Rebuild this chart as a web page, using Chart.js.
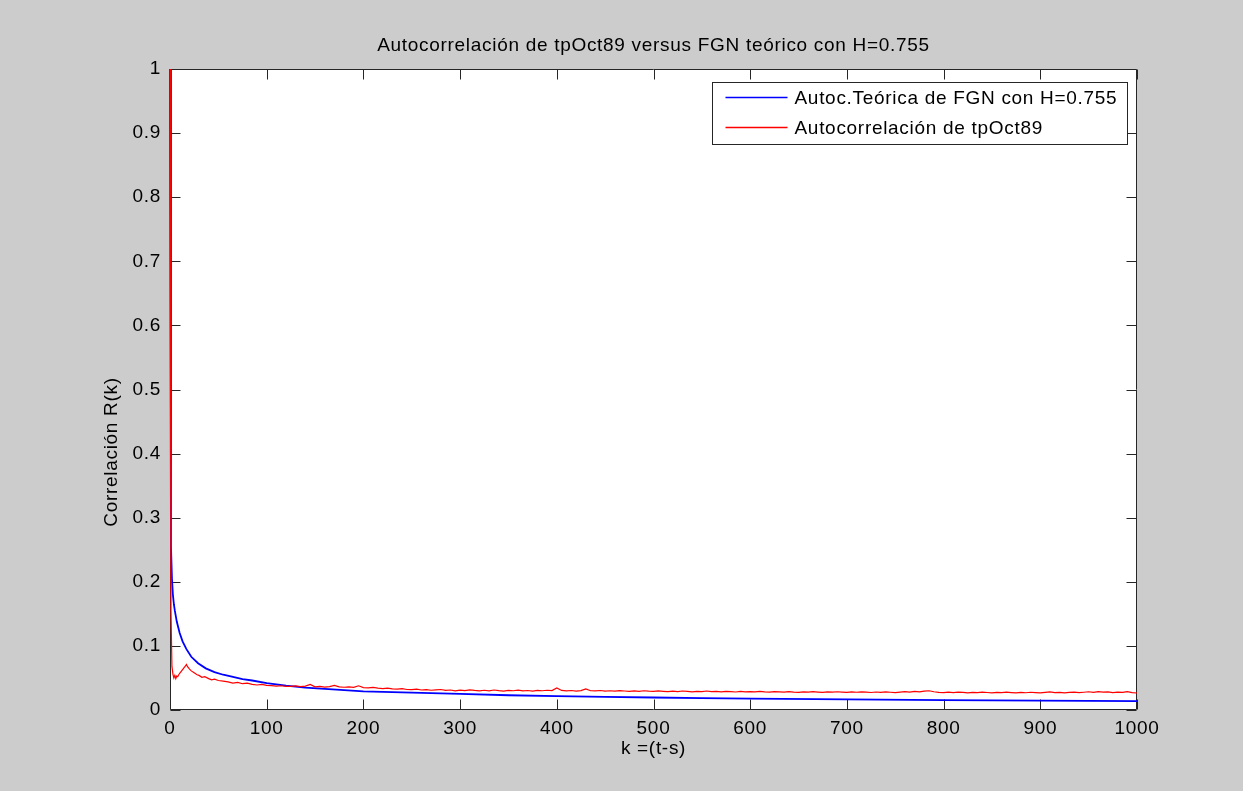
<!DOCTYPE html>
<html>
<head>
<meta charset="utf-8">
<script src="https://cdn.jsdelivr.net/npm/chart.js@4.4.1/dist/chart.umd.min.js"></script>
<style>
  html, body { margin: 0; padding: 0; background: #cccccc; }
  canvas { display: block; }
</style>
</head>
<body>
<canvas id="acf" width="1243" height="791"></canvas>
<script>
// ---- text ----
const chartTitle = 'Autocorrelación de tpOct89 versus FGN teórico con H=0.755';
const xTitle = 'k =(t-s)';
const yTitle = 'Correlación R(k)';
const theoryLabel = 'Autoc.Teórica de FGN con H=0.755';
const sampleLabel = 'Autocorrelación de tpOct89';

// ---- axis ticks ----
const xTicks = [0, 100, 200, 300, 400, 500, 600, 700, 800, 900, 1000];
const yTicks = [0, 0.1, 0.2, 0.3, 0.4, 0.5, 0.6, 0.7, 0.8, 0.9, 1];

// ---- theoretical FGN autocorrelation (blue) ----
const theoryLags = [0, 1, 2, 3, 4, 5, 7, 10, 13, 17, 22, 29, 37, 46, 55, 64, 75, 85, 100,
  120, 140, 160, 180, 200, 250, 300, 350, 400, 450, 500, 550, 600, 700, 800, 900, 1000];
const theoryValues = [1, 0.255, 0.205, 0.180, 0.165, 0.155, 0.138, 0.120, 0.107, 0.095, 0.083,
  0.073, 0.065, 0.059, 0.055, 0.052, 0.048, 0.046, 0.042,
  0.038, 0.035, 0.033, 0.031, 0.029, 0.027, 0.025, 0.023, 0.0215, 0.0205, 0.0195, 0.0185,
  0.0178, 0.0166, 0.0155, 0.0146, 0.0138];

// ---- sample autocorrelation of tpOct89 (red), first lags ----
const sampleLagsHead = [0, 1, 2, 3, 4, 5, 6, 7, 8, 9, 10, 12, 14, 16, 17, 18, 20, 22, 25, 28,
  30, 33, 36, 40, 43, 46, 50, 55, 60, 65, 70, 75, 80, 85, 90, 95];
const sampleValuesHead = [1, 0.155, 0.068, 0.056, 0.050, 0.054, 0.049, 0.053, 0.052, 0.055,
  0.057, 0.061, 0.065, 0.069, 0.071, 0.068, 0.064, 0.061, 0.058, 0.055,
  0.054, 0.051, 0.052, 0.049, 0.047, 0.048, 0.046, 0.045, 0.044, 0.042,
  0.043, 0.041, 0.042, 0.040, 0.039, 0.040];

// ---- sample autocorrelation, lags 100..1000 every 5 ----
const sampleTailStart = 100;
const sampleTailStep = 5;
const sampleValuesTail = [
  0.0385, 0.0380, 0.0372, 0.0378, 0.0370, 0.0368, 0.0375, 0.0366, 0.0372, 0.0400,
  0.0362, 0.0368, 0.0358, 0.0365, 0.0385, 0.0362, 0.0355, 0.0360, 0.0352, 0.0378,
  0.0350, 0.0345, 0.0352, 0.0340, 0.0335, 0.0342, 0.0330, 0.0325, 0.0332, 0.0320,
  0.0318, 0.0325, 0.0312, 0.0318, 0.0308, 0.0315, 0.0320, 0.0306, 0.0312, 0.0300,
  0.0310, 0.0302, 0.0315, 0.0305, 0.0298, 0.0308, 0.0300, 0.0312, 0.0302, 0.0296,
  0.0306, 0.0300, 0.0310, 0.0298, 0.0304, 0.0296, 0.0305, 0.0300, 0.0308, 0.0302,
  0.0345, 0.0305, 0.0298, 0.0304, 0.0296, 0.0302, 0.0330, 0.0300, 0.0298, 0.0304,
  0.0295, 0.0300, 0.0294, 0.0302, 0.0296, 0.0290, 0.0298, 0.0292, 0.0300, 0.0294,
  0.0290, 0.0298, 0.0292, 0.0286, 0.0294, 0.0288, 0.0296, 0.0290, 0.0284, 0.0292,
  0.0288, 0.0296, 0.0286, 0.0290, 0.0284, 0.0292, 0.0287, 0.0281, 0.0290, 0.0284,
  0.0288, 0.0282, 0.0290, 0.0284, 0.0280, 0.0288, 0.0283, 0.0278, 0.0286, 0.0280,
  0.0276, 0.0284, 0.0279, 0.0286, 0.0280, 0.0275, 0.0283, 0.0278, 0.0285, 0.0279,
  0.0274, 0.0282, 0.0277, 0.0284, 0.0278, 0.0273, 0.0281, 0.0276, 0.0283, 0.0277,
  0.0272, 0.0280, 0.0286, 0.0278, 0.0290, 0.0282, 0.0295, 0.0300, 0.0285, 0.0276,
  0.0270, 0.0278, 0.0272, 0.0280, 0.0274, 0.0268, 0.0276, 0.0271, 0.0279, 0.0273,
  0.0268, 0.0276, 0.0270, 0.0278, 0.0272, 0.0266, 0.0274, 0.0269, 0.0277, 0.0271,
  0.0266, 0.0274, 0.0282, 0.0270, 0.0276, 0.0268, 0.0274, 0.0280, 0.0270, 0.0277,
  0.0285, 0.0274, 0.0288, 0.0279, 0.0284, 0.0272, 0.0280, 0.0274, 0.0286, 0.0270,
  0.0265
];

// ---- build point lists ----
const theoryPoints = theoryLags.map((k, i) => ({ x: k, y: theoryValues[i] }));
const samplePoints = sampleLagsHead.map((k, i) => ({ x: k, y: sampleValuesHead[i] }))
  .concat(sampleValuesTail.map((v, i) => ({ x: sampleTailStart + i * sampleTailStep, y: v })));

// ---- look ----
const FONT_FAMILY = '"Liberation Sans", Arial, Helvetica, sans-serif';
const FONT_SIZE = 19;
const LETTER_SPACING = '0.7px';
const AXIS_COLOR = '#262626';
const TICK_LEN = 10;

Chart.defaults.font.family = FONT_FAMILY;
Chart.defaults.font.size = FONT_SIZE;
Chart.defaults.color = '#000000';

// figure background, white axes area, box and inward ticks, title and y label
const axesFrame = {
  id: 'axesFrame',
  beforeDraw(chart) {
    const { ctx, chartArea: a } = chart;
    ctx.letterSpacing = LETTER_SPACING;
    ctx.save();
    ctx.fillStyle = '#cccccc';
    ctx.fillRect(0, 0, chart.width, chart.height);
    ctx.fillStyle = '#ffffff';
    ctx.fillRect(a.left, a.top, a.right - a.left, a.bottom - a.top);

    ctx.fillStyle = '#000000';
    ctx.font = FONT_SIZE + 'px ' + FONT_FAMILY;
    ctx.textAlign = 'center';
    ctx.textBaseline = 'middle';
    ctx.fillText(chartTitle, (a.left + a.right) / 2, 46);

    ctx.translate(112, 452);
    ctx.rotate(-Math.PI / 2);
    ctx.fillText(yTitle, 0, 0);
    ctx.restore();
  },
  beforeDatasetsDraw(chart) {
    const { ctx, chartArea: a, scales } = chart;
    const L = Math.round(a.left) + 0.5, R = Math.round(a.right) - 0.5;
    const T = Math.round(a.top) + 0.5, B = Math.round(a.bottom) - 0.5;
    ctx.save();
    ctx.strokeStyle = AXIS_COLOR;
    ctx.lineWidth = 1;
    ctx.beginPath();
    ctx.rect(L, T, R - L, B - T);
    scales.x.ticks.forEach(t => {
      const px = Math.round(scales.x.getPixelForValue(t.value)) + 0.5;
      ctx.moveTo(px, B); ctx.lineTo(px, B - TICK_LEN);
      ctx.moveTo(px, T); ctx.lineTo(px, T + TICK_LEN);
    });
    scales.y.ticks.forEach(t => {
      const py = Math.round(scales.y.getPixelForValue(t.value)) + 0.5;
      ctx.moveTo(L, py); ctx.lineTo(L + TICK_LEN, py);
      ctx.moveTo(R, py); ctx.lineTo(R - TICK_LEN, py);
    });
    ctx.stroke();
    ctx.restore();
  }
};

// boxed legend in the upper right corner of the axes
const boxedLegend = {
  id: 'boxedLegend',
  afterDatasetsDraw(chart) {
    const { ctx, chartArea: a } = chart;
    const boxRight = a.right - 9.5, boxTop = a.top + 13.5;
    const boxW = 415, boxH = 62;
    const boxLeft = boxRight - boxW;
    const rowY = [boxTop + 15, boxTop + 45];
    ctx.save();
    ctx.fillStyle = '#ffffff';
    ctx.fillRect(boxLeft, boxTop, boxW, boxH);
    ctx.strokeStyle = AXIS_COLOR;
    ctx.lineWidth = 1;
    ctx.strokeRect(boxLeft, boxTop, boxW, boxH);
    ctx.font = FONT_SIZE + 'px ' + FONT_FAMILY;
    ctx.textBaseline = 'middle';
    ctx.textAlign = 'left';
    [chart.data.datasets[0], chart.data.datasets[1]].forEach((ds, i) => {
      ctx.strokeStyle = ds.borderColor;
      ctx.lineWidth = 1.5;
      ctx.beginPath();
      ctx.moveTo(boxLeft + 13, rowY[i]);
      ctx.lineTo(boxLeft + 75, rowY[i]);
      ctx.stroke();
      ctx.fillStyle = '#000000';
      ctx.fillText(ds.label, boxLeft + 82, rowY[i] + 1);
    });
    ctx.restore();
  }
};

new Chart(document.getElementById('acf'), {
  type: 'line',
  data: {
    datasets: [
      {
        label: theoryLabel,
        data: theoryPoints,
        borderColor: '#0000ff',
        borderWidth: 1.8,
        pointRadius: 0,
        tension: 0,
        fill: false,
        clip: 4,
        order: 2
      },
      {
        label: sampleLabel,
        data: samplePoints,
        borderColor: '#ff0000',
        borderWidth: 1.2,
        pointRadius: 0,
        tension: 0,
        fill: false,
        clip: 4,
        order: 1
      }
    ]
  },
  options: {
    responsive: false,
    animation: false,
    events: [],
    layout: { padding: { left: 0, right: 106, top: 69, bottom: 0 } },
    plugins: {
      legend: { display: false },
      tooltip: { enabled: false },
      title: { display: false }
    },
    scales: {
      x: {
        type: 'linear',
        min: 0,
        max: 1000,
        afterBuildTicks(scale) { scale.ticks = xTicks.map(v => ({ value: v })); },
        afterFit(scale) { scale.height = 81; },
        grid: { display: false, drawTicks: false },
        border: { display: false },
        ticks: { padding: 7, color: '#000000', maxRotation: 0, autoSkip: false,
                 callback: v => String(v) },
        title: {
          display: true,
          text: xTitle,
          color: '#000000',
          padding: { top: 0, bottom: 31 }
        }
      },
      y: {
        type: 'linear',
        min: 0,
        max: 1,
        afterBuildTicks(scale) { scale.ticks = yTicks.map(v => ({ value: v })); },
        afterFit(scale) { scale.width = 170; },
        grid: { display: false, drawTicks: false },
        border: { display: false },
        ticks: { padding: 9, color: '#000000', autoSkip: false,
                 callback: v => String(v) },
        title: { display: false }
      }
    }
  },
  plugins: [axesFrame, boxedLegend]
});
</script>
</body>
</html>
